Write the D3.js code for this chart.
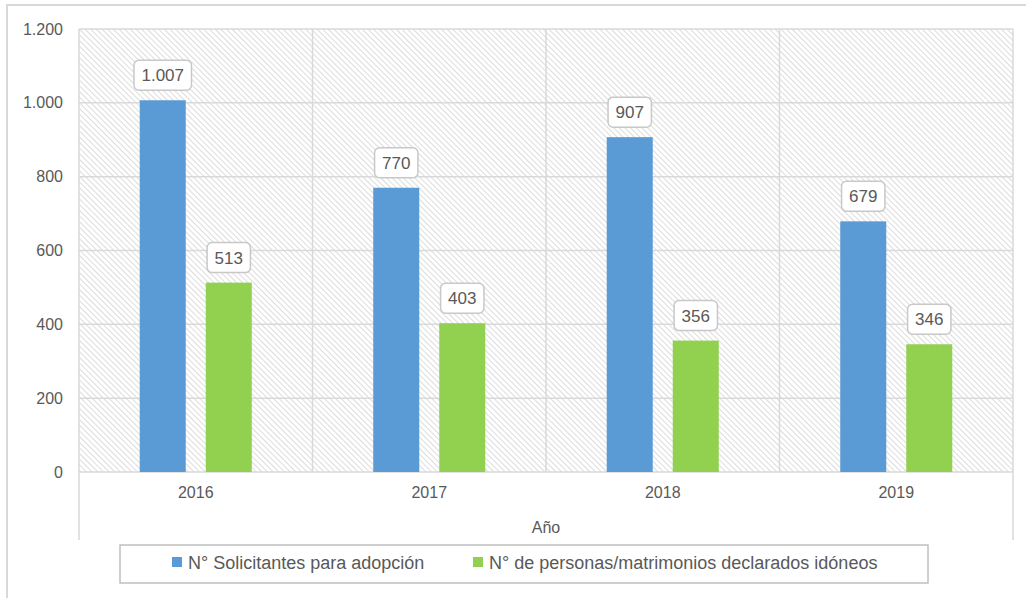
<!DOCTYPE html>
<html>
<head>
<meta charset="utf-8">
<script src="https://cdn.jsdelivr.net/npm/d3@7/dist/d3.min.js"></script>
<style>
html,body{margin:0;padding:0;background:#fff;}
svg{display:block;font-family:"Liberation Sans",Arial,sans-serif;}
</style>
</head>
<body>
<svg id="chart" width="1026" height="598"></svg>
<script>
const years = ["2016","2017","2018","2019"];
const seriesNames = ["N° Solicitantes para adopción","N° de personas/matrimonios declarados idóneos"];
const solicitantes = [1007, 770, 907, 679];
const idoneos = [513, 403, 356, 346];
const yTicks = [0,200,400,600,800,1000,1200];
const colors = ["#5b9bd5","#92d050"];
const xTitle = "Año";

const svg = d3.select("#chart");
const m = {left:79, right:1013, top:29, bottom:472};
const textColor = "#595959";
const fmt = v => d3.format(",")(v).replace(/,/g,".");

// outer border
svg.append("rect").attr("x",7).attr("y",5).attr("width",1040).attr("height",620)
  .attr("fill","#fff").attr("stroke","#d9d9d9").attr("stroke-width",2);

// hatch pattern
const defs = svg.append("defs");
const pat = defs.append("pattern").attr("id","hatch").attr("patternUnits","userSpaceOnUse")
  .attr("width",4).attr("height",4).attr("patternTransform","rotate(45)");
pat.append("rect").attr("width",4).attr("height",4).attr("fill","#fff");
pat.append("line").attr("x1",0).attr("y1",0).attr("x2",4).attr("y2",0)
  .attr("stroke","#d4d4d4").attr("stroke-width",1.6);

const x0 = d3.scaleBand().domain(years).range([m.left,m.right]).padding(0);
const x1 = d3.scaleBand().domain([0,1]).range([0,x0.bandwidth()]).paddingInner(0.303).paddingOuter(0.92);
const y = d3.scaleLinear().domain([0,1200]).range([m.bottom,m.top]);

// plot area
svg.append("rect").attr("x",m.left).attr("y",m.top).attr("width",m.right-m.left).attr("height",m.bottom-m.top)
  .attr("fill","url(#hatch)");

// horizontal gridlines
svg.append("g").selectAll("line").data(yTicks).join("line")
  .attr("x1",m.left).attr("x2",m.right).attr("y1",d=>y(d)).attr("y2",d=>y(d))
  .attr("stroke","#d9d9d9").attr("stroke-width",1.5);

// vertical category lines
const bounds = years.map(d=>x0(d)).concat([m.right]);
svg.append("g").selectAll("line").data(bounds).join("line")
  .attr("x1",d=>d).attr("x2",d=>d)
  .attr("y1",m.top)
  .attr("y2",(d,i)=> (i===0||i===bounds.length-1) ? 540 : m.bottom)
  .attr("stroke","#d9d9d9").attr("stroke-width",1.5);

// y axis labels
const yAxis = d3.axisLeft(y).tickValues(yTicks).tickFormat(fmt).tickSize(0).tickPadding(16);
const ya = svg.append("g").attr("transform",`translate(${m.left},0)`).call(yAxis);
ya.select(".domain").remove();
ya.selectAll("text").attr("fill",textColor).style("font-size","16px").style("font-family","Liberation Sans, Arial, sans-serif");

// x axis labels
const xAxis = d3.axisBottom(x0).tickSize(0).tickPadding(15);
const xa = svg.append("g").attr("transform",`translate(0,${m.bottom})`).call(xAxis);
xa.select(".domain").remove();
xa.selectAll("text").attr("fill",textColor).style("font-size","16px").style("font-family","Liberation Sans, Arial, sans-serif");

svg.append("text").attr("x",(m.left+m.right)/2).attr("y",533).attr("text-anchor","middle")
  .attr("fill",textColor).style("font-size","16px").text(xTitle);

// bars
const data = years.map((yr,i)=>({yr, vals:[solicitantes[i], idoneos[i]]}));
const groups = svg.append("g").selectAll("g").data(data).join("g")
  .attr("transform",d=>`translate(${x0(d.yr)},0)`);
groups.selectAll("rect").data(d=>d.vals.map((v,k)=>({v,k}))).join("rect")
  .attr("x",d=>x1(d.k)).attr("width",x1.bandwidth())
  .attr("y",d=>y(d.v)).attr("height",d=>y(0)-y(d.v))
  .attr("fill",d=>colors[d.k]);

// labels
const lab = groups.selectAll("g.lab").data(d=>d.vals.map((v,k)=>({v,k}))).join("g").attr("class","lab");
lab.each(function(d){
  const g = d3.select(this);
  const cx = x1(d.k)+x1.bandwidth()/2;
  const t = g.append("text").attr("x",cx).attr("y",y(d.v)-19).attr("text-anchor","middle")
    .attr("fill",textColor).style("font-size","17px").text(fmt(d.v));
  const w = t.node().getComputedTextLength()+15;
  g.insert("rect","text").attr("x",cx-w/2).attr("y",y(d.v)-40).attr("width",w).attr("height",30)
    .attr("rx",5).attr("fill","#fff").attr("stroke","#c8c8c8").attr("stroke-width",1.5);
});

// legend
svg.append("rect").attr("x",120).attr("y",545).attr("width",808).attr("height",38)
  .attr("fill","#fff").attr("stroke","#bfbfbf").attr("stroke-width",1.5);
const legX = [172,473];
const leg = svg.append("g").selectAll("g").data(seriesNames).join("g")
  .attr("transform",(d,i)=>`translate(${legX[i]},557)`);
leg.append("rect").attr("width",10).attr("height",10).attr("fill",(d,i)=>colors[i]);
leg.append("text").attr("x",16).attr("y",11.5).attr("fill",textColor).style("font-size","18px").text(d=>d);
</script>
</body>
</html>
